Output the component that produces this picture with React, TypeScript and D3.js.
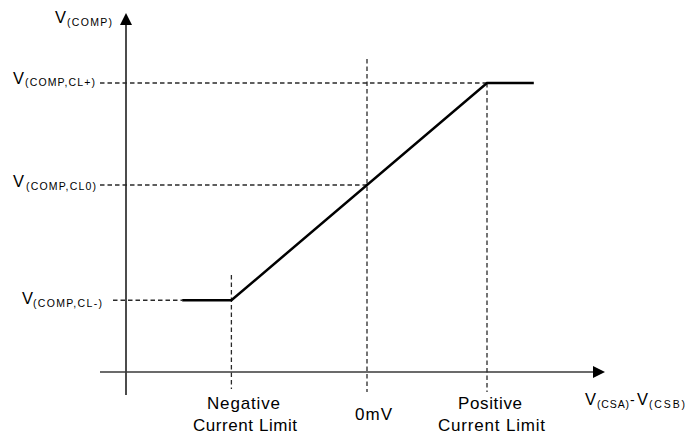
import React from "react";
import * as d3 from "d3";

// Data (arbitrary units): x = V(CSA)-V(CSB), y = V(COMP)
const xKeys = ["negLimit", "zero", "posLimit"];
const xValues = [-1.13, 0, 1.0];
const yLevelNames = ["CL-", "CL0", "CL+"];
const yLevels = [-1.13, 0, 1.0];
const curveX = [-1.54, -1.13, 1.0, 1.39];
const curveY = [-1.13, -1.13, 1.0, 1.0];
const bottomLabels = [["Negative", "Current Limit"], ["0mV"], ["Positive", "Current Limit"]];

const W = 688, H = 434;
const x = d3.scaleLinear().domain([0, 1]).range([367, 487]);
const y = d3.scaleLinear().domain([0, 1]).range([185, 83]);

const FONT = "'Liberation Sans', Arial, sans-serif";
const DASH = "4.5,3";

function VLabel({ xV, wV, xS, wS, base, sub, size = 17, subSize = 10.5 }: any) {
  return (
    <g fontFamily={FONT} fill="#000">
      <text x={xV} y={base} fontSize={size} textLength={wV} lengthAdjust="spacingAndGlyphs">V</text>
      <text x={xS} y={base + 2.5} fontSize={subSize} textLength={wS} lengthAdjust="spacing">{sub}</text>
    </g>
  );
}

export default function App() {
  const line = d3.line<number>().x((d, i) => x(curveX[i])).y((d, i) => y(curveY[i]));
  const axisY = y.invert(372);
  const axisX = x.invert(126);
  const path = line(curveX as any) || "";

  const xLeft = x.invert(100), xRight = x.invert(594);
  const yBottom = y.invert(395), yTop = y.invert(24);

  // dashed guides
  const hStart = [x.invert(113), x.invert(100), x.invert(100)];
  const hEnd = [curveX[0], xValues[1], xValues[2]];
  const vTop = [y.invert(275), y.invert(59), yLevels[2]];
  const vBottom = [y.invert(389), y.invert(392), y.invert(392)];

  return (
    <svg width={W} height={H} style={{ position: "absolute", left: 0, top: 0, background: "#fff" }}>
      {/* axes */}
      <line x1={x(axisX)} x2={x(axisX)} y1={y(yBottom)} y2={y(yTop)} stroke="#111" strokeWidth={1.5} />
      <path d={`M${x(axisX) - 6},${y(yTop) + 1} L${x(axisX)},${y(yTop) - 11} L${x(axisX) + 6},${y(yTop) + 1} Z`} fill="#000" />
      <line x1={x(xLeft)} x2={x(xRight)} y1={y(axisY)} y2={y(axisY)} stroke="#3a3a3a" strokeWidth={1.6} />
      <path d={`M${x(xRight) - 1},${y(axisY) - 6} L${x(xRight) + 11},${y(axisY)} L${x(xRight) - 1},${y(axisY) + 6} Z`} fill="#000" />

      {/* dashed horizontal guides */}
      {yLevels.map((v, i) => (
        <line key={"h" + i} x1={x(hStart[i])} x2={x(hEnd[i])} y1={y(v)} y2={y(v)} stroke="#2a2a2a" strokeWidth={1.3} strokeDasharray={DASH} />
      ))}
      {/* dashed vertical guides */}
      {xValues.map((v, i) => (
        <line key={"v" + i} x1={x(v)} x2={x(v)} y1={y(vTop[i])} y2={y(vBottom[i])} stroke="#2a2a2a" strokeWidth={1.3} strokeDasharray={DASH} />
      ))}

      {/* transfer curve */}
      <path d={path} fill="none" stroke="#000" strokeWidth={2.5} strokeLinejoin="miter" />

      {/* y labels */}
      <VLabel xV={55} wV={11} xS={67} wS={45} base={23} sub="(COMP)" />
      <VLabel xV={13} wV={11} xS={25} wS={70} base={y(yLevels[2]) + 0.5} sub="(COMP,CL+)" />
      <VLabel xV={13} wV={11} xS={26} wS={70} base={y(yLevels[1]) + 2} sub="(COMP,CL0)" />
      <VLabel xV={22} wV={11} xS={33} wS={69} base={y(yLevels[0]) + 4} sub="(COMP,CL-)" />

      {/* x axis label */}
      <g fontFamily={FONT} fill="#000">
        <text x={585} y={405} fontSize={17} textLength={11} lengthAdjust="spacingAndGlyphs">V</text>
        <text x={597} y={408} fontSize={10.5} textLength={32} lengthAdjust="spacing">(CSA)</text>
        <text x={630} y={405} fontSize={14}>-</text>
        <text x={637} y={405} fontSize={17} textLength={11} lengthAdjust="spacingAndGlyphs">V</text>
        <text x={649} y={408} fontSize={10.5} textLength={36} lengthAdjust="spacing">(CSB)</text>
      </g>

      {/* bottom labels */}
      <g fontFamily={FONT} fill="#000" fontSize={17}>
        <text x={207} y={409} textLength={73} lengthAdjust="spacing">{bottomLabels[0][0]}</text>
        <text x={193} y={431} textLength={104} lengthAdjust="spacing">{bottomLabels[0][1]}</text>
        <text x={355} y={420} textLength={37} lengthAdjust="spacing">{bottomLabels[1][0]}</text>
        <text x={458} y={409} textLength={64} lengthAdjust="spacing">{bottomLabels[2][0]}</text>
        <text x={438} y={431} textLength={107} lengthAdjust="spacing">{bottomLabels[2][1]}</text>
      </g>
    </svg>
  );
}
